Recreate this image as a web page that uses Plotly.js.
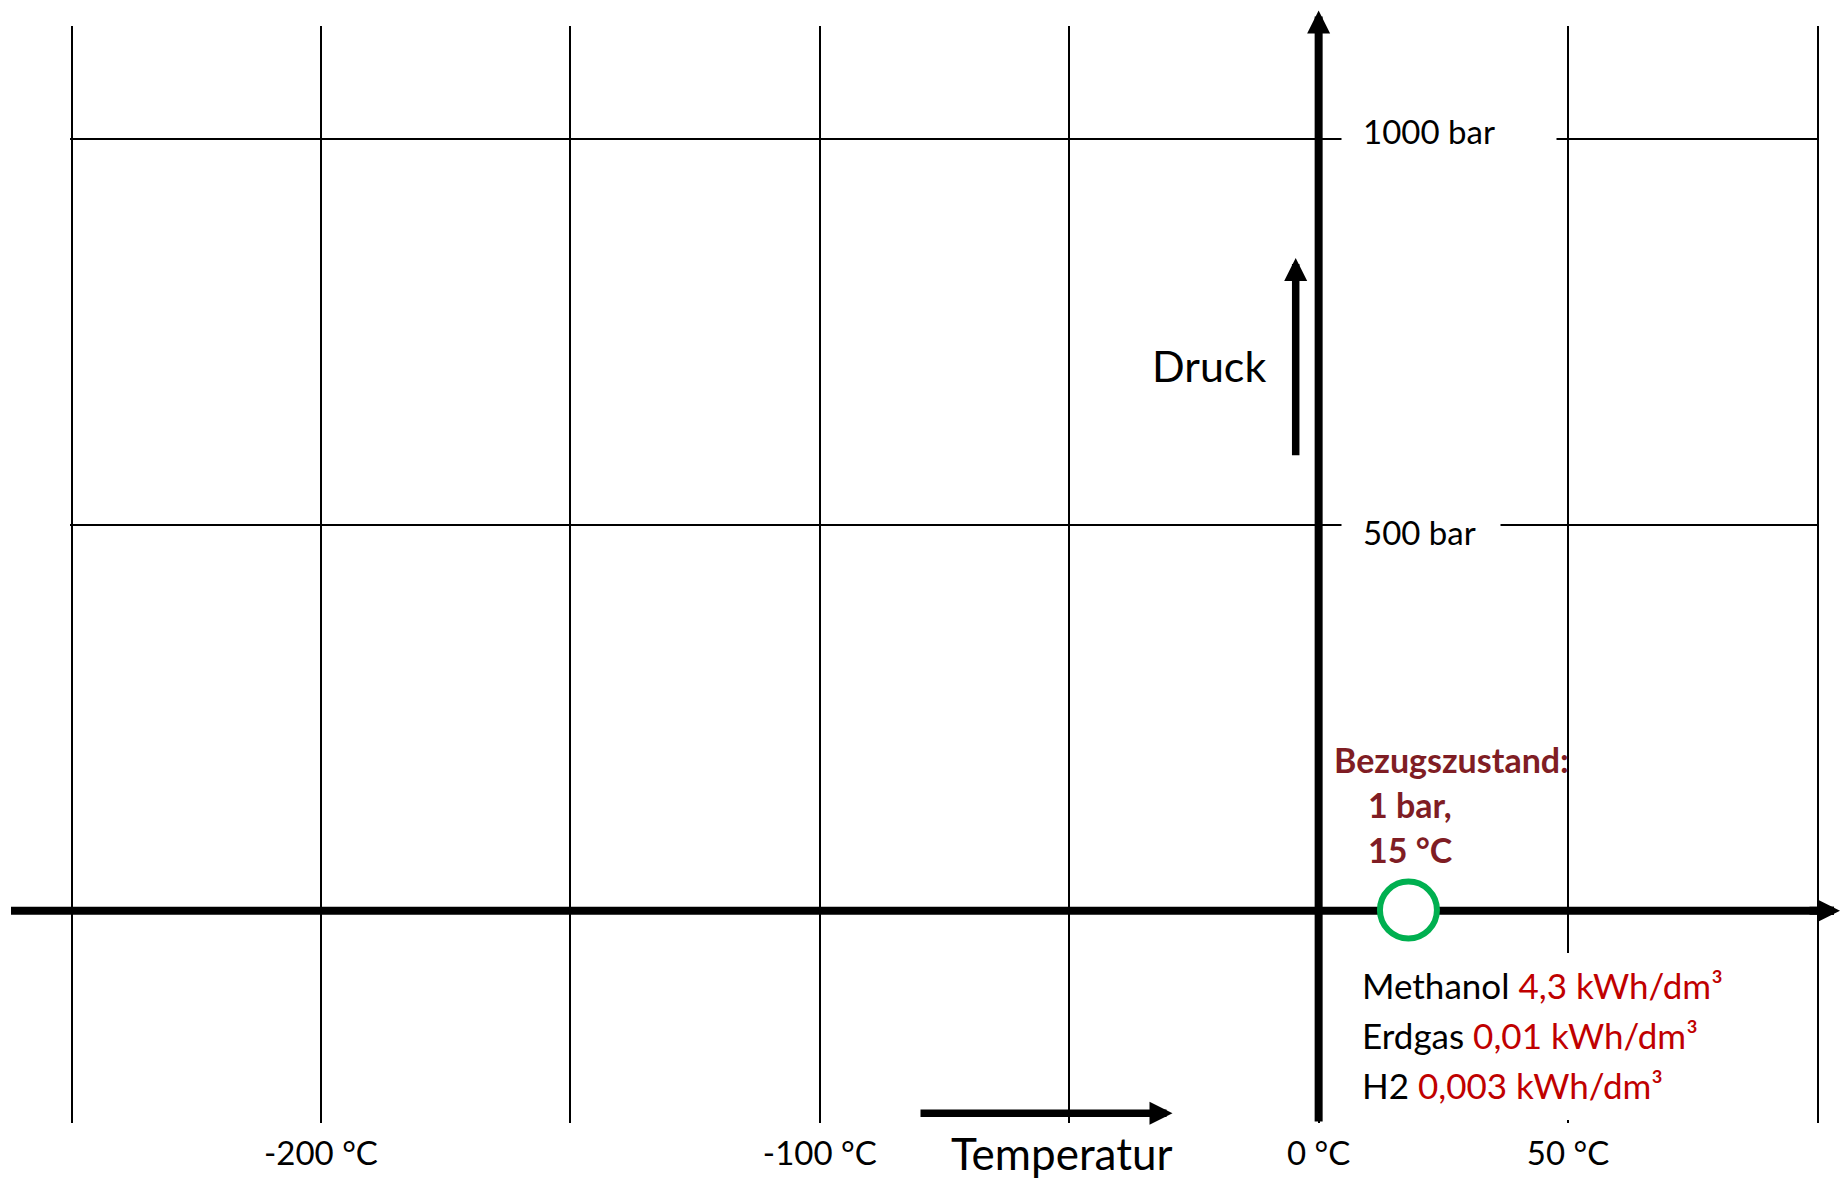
<!DOCTYPE html>
<html>
<head>
<meta charset="utf-8">
<script src="https://cdn.plot.ly/plotly-3.0.1.min.js"></script>
<style>html,body{margin:0;padding:0;background:#fff;}#chart{width:1841px;height:1179px;}</style>
</head>
<body>
<div id="chart"></div>
<script>
// ---- data ----
const tempTicks = [-250, -200, -150, -100, -50, 0, 50, 100];
const tempLabels = ['', '-200 °C', '', '-100 °C', '', '0 °C', '50 °C', ''];
const pressureTicks = [500, 1000];
const pressureLabels = ['500 bar', '1000 bar'];
const refTemp = [18];
const refPressure = [1];
const refLines = ['Bezugszustand:', '1 bar,', '15 °C'];
const fuels = ['Methanol', 'Erdgas', 'H2'];
const energyDensity = ['4,3', '0,01', '0,003'];
const energyUnit = 'kWh/dm³';
const axisTitles = {x: 'Temperatur', y: 'Druck'};

// ---- layout geometry ----
const W = 1841, H = 1179;
const M = {l: 70, r: 22, t: 26, b: 56, pad: 0};
const plotW = W - M.l - M.r, plotH = H - M.t - M.b;
const xRange = [-250.3, 100.3];
const yRange = [-275, 1146.7];
const pxX = px => (px - M.l) / plotW;          // pixel -> paper x
const pxY = py => (H - M.b - py) / plotH;      // pixel -> paper y
const FONT = 'Lato, "Open Sans", sans-serif';
const DARKRED = '#7F1D24', RED = '#C00000', GREEN = '#00B050';

const annotations = [];
const shapes = [];

// pressure labels on the vertical axis (white boxes interrupt the grid lines)
const boxW = {500: 116, 1000: 172};
const boxShift = {500: -6.7, 1000: 8.5};
pressureTicks.forEach((p, i) => {
  annotations.push({
    xref: 'x', yref: 'y', x: 0, y: p, xanchor: 'left', yanchor: 'middle',
    xshift: 22, yshift: boxShift[p],
    text: pressureLabels[i], showarrow: false, align: 'left',
    width: boxW[p], borderpad: 21, bgcolor: '#ffffff',
    font: {family: FONT, size: 33, color: '#000'}
  });
});

// vertical axis (arrow up)
annotations.push({
  xref: 'x', yref: 'paper', x: 0, y: pxY(10.6), ax: 0, ay: 1123 - 10.6,
  axref: 'pixel', ayref: 'pixel', text: '', showarrow: true,
  arrowhead: 2, arrowwidth: 8, arrowsize: 0.575, arrowcolor: '#000', standoff: 0
});
// horizontal axis (line + arrow head)
shapes.push({
  type: 'line', xref: 'paper', yref: 'y', x0: pxX(11), x1: pxX(1834), y0: 0, y1: 0,
  line: {color: '#000', width: 8}, layer: 'below'
});
annotations.push({
  xref: 'paper', yref: 'y', x: pxX(1848), y: 0, ax: -40, ay: 0,
  text: '', showarrow: true, arrowhead: 2, arrowwidth: 8, arrowsize: 0.575,
  arrowcolor: '#000', standoff: 0
});
// Druck arrow + label
annotations.push({
  xref: 'paper', yref: 'paper', x: pxX(1295.7), y: pxY(257.9), ax: 0, ay: 456.7 - 257.9,
  text: '', showarrow: true, arrowhead: 2, arrowwidth: 7.5, arrowsize: 0.613,
  arrowcolor: '#000', standoff: 0
});
annotations.push({
  xref: 'paper', yref: 'paper', x: pxX(1268), y: pxY(366), xanchor: 'right', yanchor: 'middle',
  text: axisTitles.y, showarrow: false, font: {family: FONT, size: 43, color: '#000'}
});
// Temperatur arrow + label
annotations.push({
  xref: 'paper', yref: 'paper', x: pxX(1172.5), y: pxY(1113.3), ax: 919 - 1172.5, ay: 0,
  text: '', showarrow: true, arrowhead: 2, arrowwidth: 7.5, arrowsize: 0.613,
  arrowcolor: '#000', standoff: 0
});
annotations.push({
  xref: 'paper', yref: 'paper', x: pxX(949), y: pxY(1153), xanchor: 'left', yanchor: 'middle',
  text: axisTitles.x, showarrow: false, font: {family: FONT, size: 44, color: '#000'}
});

// reference state text
const refLeft = [1332, 1366, 1366];
const refCY = [759.2, 804.2, 849.2];
refLines.forEach((t, i) => {
  annotations.push({
    xref: 'paper', yref: 'paper', x: pxX(refLeft[i]), y: pxY(refCY[i]),
    xanchor: 'left', yanchor: 'middle', text: '<b>' + t + '</b>', showarrow: false,
    font: {family: FONT, size: 34, color: DARKRED}
  });
});

// white box behind the energy-density text hides the 50 °C grid line there
shapes.push({
  type: 'rect', xref: 'paper', yref: 'paper', x0: pxX(1540), x1: pxX(1600),
  y0: pxY(1120), y1: pxY(953), fillcolor: '#ffffff', line: {width: 0}, layer: 'above'
});
const fuelCY = [984.8, 1034.8, 1084.8];
fuels.forEach((f, i) => {
  annotations.push({
    xref: 'paper', yref: 'paper', x: pxX(1359.5), y: pxY(fuelCY[i]),
    xanchor: 'left', yanchor: 'middle',
    text: f + ' <span style="color:' + RED + '">' + energyDensity[i] + ' ' + energyUnit + '</span>',
    showarrow: false, font: {family: FONT, size: 35, color: '#000'}
  });
});

const traces = [{
  type: 'scatter', mode: 'markers', x: refTemp, y: refPressure,
  marker: {symbol: 'circle', size: 57, color: '#ffffff', line: {color: GREEN, width: 6}},
  hoverinfo: 'skip', cliponaxis: false
}];

const layout = {
  width: W, height: H, margin: M,
  paper_bgcolor: '#ffffff', plot_bgcolor: '#ffffff', showlegend: false,
  xaxis: {
    range: xRange, tickmode: 'array', tickvals: tempTicks, ticktext: tempLabels,
    showgrid: true, gridcolor: '#000', gridwidth: 2, zeroline: false, showline: false,
    ticks: '', ticklabelstandoff: 8, tickfont: {family: FONT, size: 33, color: '#000'}
  },
  yaxis: {
    range: yRange, tickmode: 'array', tickvals: pressureTicks, showticklabels: false,
    showgrid: true, gridcolor: '#000', gridwidth: 2, zeroline: false, showline: false, ticks: ''
  },
  shapes: shapes,
  annotations: annotations
};

Plotly.newPlot('chart', traces, layout, {staticPlot: true, displayModeBar: false});
</script>
</body>
</html>
